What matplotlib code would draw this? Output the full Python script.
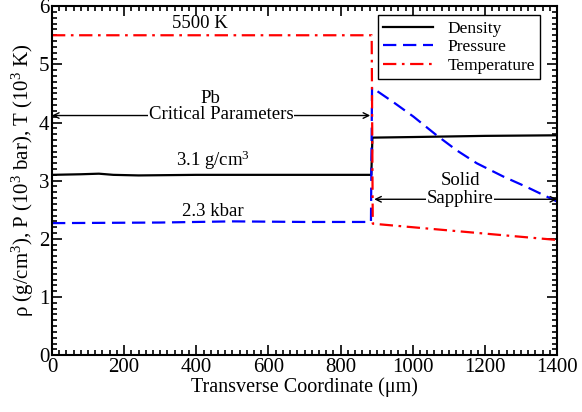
import numpy as np
import matplotlib.pyplot as plt
from matplotlib.ticker import MultipleLocator

plt.rcParams['font.family'] = ['Liberation Serif', 'DejaVu Serif']
plt.rcParams['mathtext.fontset'] = 'custom'
plt.rcParams['mathtext.rm'] = 'Liberation Serif'
plt.rcParams['mathtext.it'] = 'Liberation Serif:italic'

# Profiles across the transverse coordinate (um)
dens_x = [0, 80, 130, 170, 240, 400, 600, 885, 888, 1000, 1200, 1400]
dens_y = [3.10, 3.11, 3.12, 3.10, 3.09, 3.10, 3.10, 3.10, 3.74, 3.75, 3.77, 3.78]

pres_x = [0, 300, 500, 700, 884, 887, 946, 1002, 1066, 1122, 1177, 1251, 1316, 1400]
pres_y = [2.27, 2.28, 2.30, 2.29, 2.29, 4.60, 4.35, 4.10, 3.78, 3.52, 3.30, 3.07, 2.89, 2.64]

temp_x = [0, 886, 889, 1400]
temp_y = [5.50, 5.50, 2.26, 1.98]

fig = plt.figure(figsize=(5.82, 4.12), dpi=100)
ax = fig.add_axes([0.0893, 0.138, 0.868, 0.847])

ax.plot(dens_x, dens_y, color='black', lw=1.6, label='Density')
ax.plot(pres_x, pres_y, color='#0000ff', lw=1.6, dashes=(6, 3), label='Pressure')
ax.plot(temp_x, temp_y, color='#ff0000', lw=1.6, dashes=(6, 2.5, 1.2, 2.5), label='Temperature')

ax.set_xlim(0, 1400)
ax.set_ylim(0, 6)
ax.xaxis.set_major_locator(MultipleLocator(200))
ax.xaxis.set_minor_locator(MultipleLocator(20))
ax.yaxis.set_major_locator(MultipleLocator(1))
ax.yaxis.set_minor_locator(MultipleLocator(0.1))
ax.tick_params(which='both', direction='in', top=True, right=True, width=1.2,
               labelsize=15, pad=2)
ax.tick_params(which='major', length=7)
ax.tick_params(which='minor', length=3.5)
for s in ax.spines.values():
    s.set_linewidth(1.5)

ax.set_xlabel('Transverse Coordinate (\u03bcm)', fontsize=14.5, labelpad=0)
ax.set_ylabel('\u03c1 (g/cm$^3$), P (10$^3$ bar), T (10$^3$ K)', fontsize=15, labelpad=2)

# Annotations
txt = dict(fontsize=13.5, ha='center')
ax.text(410, 5.55, '5500 K', va='bottom', **txt)
ax.text(447, 3.15, r'3.1 g/cm$^3$', va='bottom', **txt)
ax.text(447, 2.33, '2.3 kbar', va='bottom', **txt)

ax.annotate('', xy=(0, 4.12), xytext=(882, 4.12),
            arrowprops=dict(arrowstyle='<->', color='black', lw=1.0,
                            shrinkA=0, shrinkB=0))
ax.text(438, 4.42, 'Pb', va='center', **txt)
ax.text(469, 4.13, 'Critical Parameters', va='center',
        bbox=dict(facecolor='white', edgecolor='none', pad=0.5), **txt)

ax.annotate('', xy=(893, 2.68), xytext=(1400, 2.68),
            arrowprops=dict(arrowstyle='<->', color='black', lw=1.0,
                            shrinkA=0, shrinkB=0))
ax.text(1131, 3.0, 'Solid', va='center', **txt)
ax.text(1131, 2.70, 'Sapphire', va='center',
        bbox=dict(facecolor='white', edgecolor='none', pad=0.5), **txt)

leg = ax.legend(loc='upper right', bbox_to_anchor=(0.966, 0.974), fontsize=12.5,
                fancybox=False, framealpha=1, edgecolor='black', handlelength=2.9,
                borderpad=0.3, labelspacing=0.15, borderaxespad=0)
leg.get_frame().set_linewidth(1.0)

fig.savefig('out.png', dpi=100)
